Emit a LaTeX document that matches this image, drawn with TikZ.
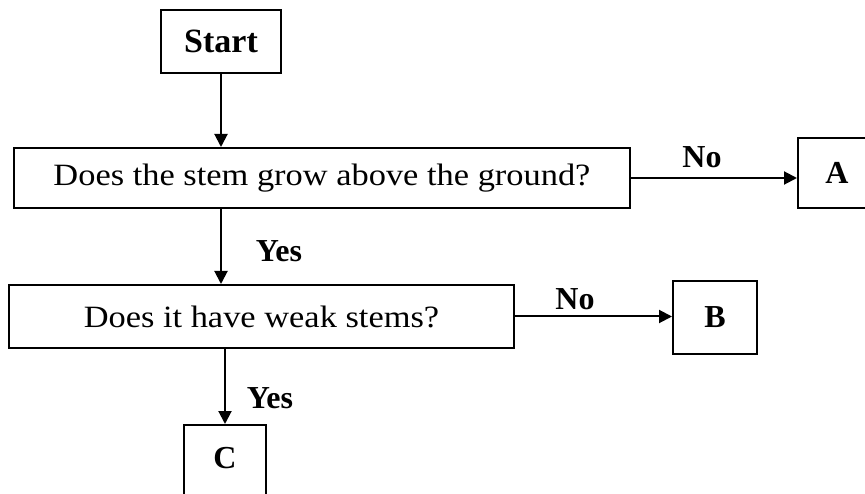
\documentclass[tikz,border=0pt]{standalone}
\usepackage{fontspec}
\setmainfont{Liberation Serif}
\newfontfamily\qfont[FakeStretch=1.11]{Liberation Serif}
\usetikzlibrary{arrows.meta,calc}
\tikzset{
  box/.style={draw=black, line width=2pt, rectangle, inner sep=0pt, align=center},
  qtext/.style={font=\qfont\fontsize{31}{36}\selectfont},
  btext/.style={font=\fontsize{32}{36}\selectfont\bfseries},
  lab/.style={font=\fontsize{32}{36}\selectfont\bfseries, inner sep=0pt},
  arr/.style={line width=2pt, -{Triangle[length=13pt,width=13pt]}}
}
\begin{document}
\begin{tikzpicture}[x=1pt,y=-1pt]
\useasboundingbox (0,0) rectangle (865,494);
\clip (0,0) rectangle (865,494);
\fill[white] (0,0) rectangle (865,494);
\node[box, btext, font=\fontsize{34}{38}\selectfont\bfseries, minimum width=120pt, minimum height=63pt] (start) at (221,41.5) {Start};
\node[box, qtext, minimum width=616pt, minimum height=60pt] (q1) at (322,178) {Does the stem grow above the ground?};
\node[box, btext, minimum width=78pt, minimum height=70pt] (A) at (837,173) {A};
\node[box, qtext, minimum width=505pt, minimum height=63pt] (q2) at (261.5,316.5) {Does it have weak stems?};
\node[box, btext, minimum width=84pt, minimum height=73pt] (B) at (715,317.5) {B};
\node[box, btext, minimum width=82pt, minimum height=90pt, text depth=24pt] (C) at (225,470) {C};
\draw[arr] (start.south) -- (start.south |- q1.north);
\draw[arr] (start.south |- q1.south) -- (start.south |- q2.north);
\draw[arr] (C.north |- q2.south) -- (C.north);
\draw[arr] (q1.east) -- (q1.east -| A.west);
\draw[arr] (q2.east) -- (q2.east -| B.west);
\node[lab] (no1) at (702,157) {No};
\node[lab] (no2) at (575,299) {No};
\node[lab] (yes1) at (279,251) {Yes};
\node[lab] (yes2) at (270,398) {Yes};
\end{tikzpicture}
\end{document}
